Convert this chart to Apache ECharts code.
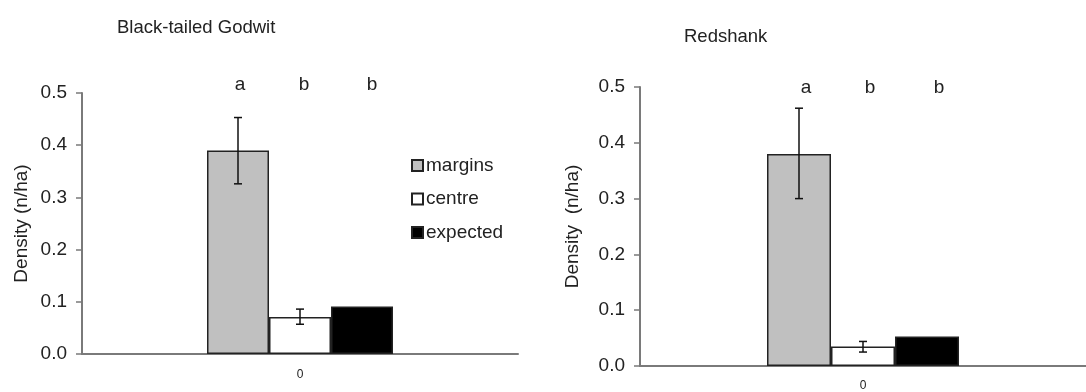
<!DOCTYPE html>
<html>
<head>
<meta charset="utf-8">
<script src="https://cdn.jsdelivr.net/npm/echarts@6/dist/echarts.min.js"></script>
<style>
  html, body { margin: 0; padding: 0; background: #fff; }
  #chart { width: 1086px; height: 392px; }
</style>
</head>
<body>
<div id="chart"></div>
<script>
// datos
const categories = ['0'];
const seriesNames = ['margins', 'centre', 'expected'];
const seriesColors = ['#c0c0c0', '#ffffff', '#000000'];
const sigLetters = ['a', 'b', 'b'];
const yTicks = [0, 0.1, 0.2, 0.3, 0.4, 0.5];

// Black-tailed Godwit
const godwitMean = [0.39, 0.071, 0.091];
const godwitLow = [0.326, 0.057, null];
const godwitHigh = [0.453, 0.086, null];

// Redshank
const redshankMean = [0.38, 0.035, 0.053];
const redshankLow = [0.300, 0.025, null];
const redshankHigh = [0.462, 0.044, null];

const FONT = '"Liberation Sans", Arial, sans-serif';
const barW = [62, 64];

const chart = echarts.init(document.getElementById('chart'));

function yAxisCfg(grid, name, gap) {
    return {
        type: 'value', gridIndex: grid, min: yTicks[0], max: yTicks[yTicks.length - 1], interval: 0.1,
        name: name, nameLocation: 'middle', nameGap: gap, nameRotate: 90,
        nameTextStyle: { fontFamily: FONT, fontSize: 19, color: '#222' },
        axisLine: { show: true, lineStyle: { color: '#7a7a7a', width: 2 } },
        axisTick: { show: true, length: 6, lineStyle: { color: '#7a7a7a', width: 1.5 } },
        axisLabel: { fontFamily: FONT, fontSize: 19, color: '#222', margin: 15,
            formatter: v => v.toFixed(1) },
        splitLine: { show: false }
    };
}

function xAxisCfg(grid, margin) {
    return {
        type: 'category', gridIndex: grid, data: categories,
        axisLine: { show: true, lineStyle: { color: '#7a7a7a', width: 2 } },
        axisTick: { show: false },
        axisLabel: { fontFamily: FONT, fontSize: 12, color: '#222', margin: margin }
    };
}

function barSeries(grid, means) {
    return seriesNames.map((n, i) => ({
        name: n, type: 'bar', xAxisIndex: grid, yAxisIndex: grid,
        barWidth: barW[grid], barGap: '0%',
        data: [means[i]],
        itemStyle: { color: seriesColors[i], borderColor: '#222', borderWidth: 1.5 },
        emphasis: { disabled: true }
    }));
}

function errSeries(grid, low, high) {
    const data = [];
    low.forEach((l, i) => {
        if (l !== null) data.push([0, l, high[i], i - 1]);
    });
    return {
        type: 'custom', xAxisIndex: grid, yAxisIndex: grid, z: 5,
        encode: { x: 0, y: [1, 2] },
        data: data,
        renderItem: (params, api) => {
            const lo = api.coord([api.value(0), api.value(1)]);
            const hi = api.coord([api.value(0), api.value(2)]);
            const x = lo[0] + api.value(3) * barW[grid];
            const cap = 4;
            const st = { stroke: '#111', lineWidth: 1.5 };
            return {
                type: 'group',
                children: [
                    { type: 'line', shape: { x1: x, y1: lo[1], x2: x, y2: hi[1] }, style: st },
                    { type: 'line', shape: { x1: x - cap, y1: lo[1], x2: x + cap, y2: lo[1] }, style: st },
                    { type: 'line', shape: { x1: x - cap, y1: hi[1], x2: x + cap, y2: hi[1] }, style: st }
                ]
            };
        }
    };
}

const letterX = [[240, 304, 372], [806, 870, 939]];
const letterY = [85, 88];
const graphics = [];
letterX.forEach((xs, g) => {
    xs.forEach((x, i) => {
        graphics.push({
            type: 'text', x: x, y: letterY[g],
            style: { text: sigLetters[i], fontFamily: FONT, fontSize: 19, fill: '#222',
                align: 'center', verticalAlign: 'middle' }
        });
    });
});

const option = {
    animation: false,
    title: [
        { text: 'Black-tailed Godwit', left: 112, top: 13,
          textStyle: { fontFamily: FONT, fontSize: 18.5, fontWeight: 'normal', color: '#222' } },
        { text: 'Redshank', left: 679, top: 22,
          textStyle: { fontFamily: FONT, fontSize: 18.5, fontWeight: 'normal', color: '#222' } }
    ],
    legend: {
        data: seriesNames, orient: 'vertical', left: 406, top: 151,
        icon: 'rect', itemWidth: 11, itemHeight: 11, itemGap: 14.5,
        textStyle: { fontFamily: FONT, fontSize: 19, color: '#222', padding: [0, 0, 0, -2] },
        selectedMode: false
    },
    grid: [
        { left: 82, right: 568, top: 93, bottom: 38 },
        { left: 640, right: 0, top: 87, bottom: 24 }
    ],
    xAxis: [xAxisCfg(0, 15), xAxisCfg(1, 14)],
    yAxis: [yAxisCfg(0, 'Density (n/ha)', 51), yAxisCfg(1, 'Density  (n/ha)', 58)],
    series: [
        ...barSeries(0, godwitMean),
        ...barSeries(1, redshankMean),
        errSeries(0, godwitLow, godwitHigh),
        errSeries(1, redshankLow, redshankHigh)
    ],
    graphic: graphics
};

chart.setOption(option);
</script>
</body>
</html>
